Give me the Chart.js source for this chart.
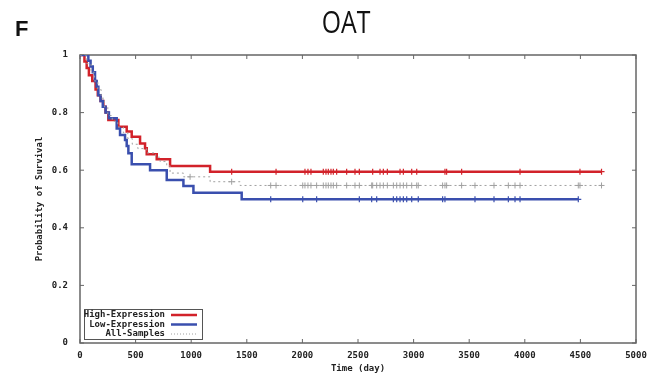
<!DOCTYPE html>
<html>
<head>
<meta charset="utf-8">
<script src="https://cdn.jsdelivr.net/npm/chart.js@4"></script>
<style>
  body { margin: 0; background: #fff; }
</style>
</head>
<body>
<canvas id="km_chart" width="658" height="377"></canvas>
<script>
// survival curves, step times (day) and survival after each step
const highT = [0, 40, 60, 80, 110, 140, 160, 185, 210, 230, 255, 345, 420, 465, 540, 585, 600, 690, 810, 1170, 4690];
const highS = [1, 0.977, 0.955, 0.93, 0.91, 0.88, 0.86, 0.84, 0.82, 0.80, 0.774, 0.751, 0.734, 0.716, 0.693, 0.676, 0.655, 0.638, 0.615, 0.595, 0.595];

const lowT = [0, 75, 95, 115, 135, 150, 165, 185, 205, 230, 260, 330, 360, 405, 420, 435, 465, 630, 780, 930, 1020, 1454, 4481];
const lowS = [1, 0.98, 0.96, 0.94, 0.91, 0.89, 0.86, 0.84, 0.82, 0.80, 0.78, 0.745, 0.722, 0.705, 0.684, 0.659, 0.621, 0.60, 0.566, 0.545, 0.522, 0.499, 0.499];

const allT = [0, 60, 100, 130, 160, 190, 220, 250, 290, 340, 390, 430, 470, 520, 600, 680, 720, 780, 810, 930, 1170, 1440, 4690];
const allS = [1, 0.97, 0.94, 0.91, 0.88, 0.85, 0.82, 0.79, 0.77, 0.75, 0.73, 0.71, 0.69, 0.675, 0.66, 0.645, 0.63, 0.615, 0.59, 0.577, 0.56, 0.547, 0.547];

// censored times
const highCens = [1364, 1763, 2023, 2050, 2077, 2188, 2212, 2233, 2257, 2278, 2308, 2398, 2473, 2512, 2632, 2698, 2728, 2764, 2878, 2908, 2983, 3028, 3282, 3297, 3432, 3957, 4496, 4690];
const lowCens = [1715, 2003, 2128, 2512, 2623, 2668, 2818, 2848, 2878, 2908, 2938, 2983, 3042, 3261, 3282, 3552, 3723, 3852, 3912, 3957, 4481];
const allCens = [990, 1364, 1715, 1763, 2003, 2023, 2050, 2077, 2128, 2188, 2212, 2233, 2257, 2278, 2308, 2398, 2473, 2512, 2623, 2632, 2668, 2698, 2728, 2764, 2818, 2848, 2878, 2908, 2938, 2983, 3028, 3042, 3261, 3282, 3297, 3432, 3552, 3723, 3852, 3912, 3957, 4481, 4496, 4690];

const xTicks = [0, 500, 1000, 1500, 2000, 2500, 3000, 3500, 4000, 4500, 5000];
const yTicks = [0, 0.2, 0.4, 0.6, 0.8, 1];
const seriesNames = ["High-Expression", "Low-Expression", "All-Samples"];

const RED = "#d2222a", BLUE = "#3a4fae", GRAY = "#a0a0a0";
const MONO = "'DejaVu Sans Mono', monospace";

function curve(t, s) { return t.map((v, i) => ({ x: v, y: s[i] })); }
function valueAt(t, s, day) {
    let v = s[0];
    for (let i = 0; i < t.length; i++) if (t[i] <= day) v = s[i];
    return v;
}
function marks(cens, t, s) { return cens.map(d => ({ x: d, y: valueAt(t, s, d) })); }

const frame = {
    id: "frame",
    beforeDatasetsDraw(chart) {
        const { ctx, chartArea: a, scales: { x, y } } = chart;
        ctx.save();
        ctx.strokeStyle = "#666";
        ctx.lineWidth = 1.5;
        ctx.strokeRect(a.left, a.top, a.right - a.left, a.bottom - a.top);
        ctx.lineWidth = 1;
        ctx.beginPath();
        xTicks.forEach(v => {
            const px = x.getPixelForValue(v);
            ctx.moveTo(px, a.bottom); ctx.lineTo(px, a.bottom - 4);
            ctx.moveTo(px, a.top); ctx.lineTo(px, a.top + 4);
        });
        yTicks.forEach(v => {
            const py = y.getPixelForValue(v);
            ctx.moveTo(a.left, py); ctx.lineTo(a.left + 4, py);
            ctx.moveTo(a.right, py); ctx.lineTo(a.right - 4, py);
        });
        ctx.stroke();
        ctx.restore();
    },
    afterDraw(chart) {
        const ctx = chart.ctx;
        ctx.save();
        // panel letter + title
        ctx.fillStyle = "#111";
        ctx.font = "bold 22px 'Liberation Sans', Arial, sans-serif";
        ctx.textBaseline = "alphabetic";
        ctx.textAlign = "left";
        ctx.fillText("F", 15, 36);
        ctx.translate(346, 33);
        ctx.scale(0.8, 1);
        ctx.font = "500 31px 'Open Sans', sans-serif";
        ctx.textAlign = "center";
        ctx.fillText("OAT", 0, 0);
        ctx.restore();

        // legend box
        ctx.save();
        ctx.strokeStyle = "#555";
        ctx.lineWidth = 1;
        ctx.strokeRect(84.5, 309.5, 118, 30);
        ctx.font = "bold 9px " + MONO;
        ctx.textAlign = "right";
        ctx.textBaseline = "middle";
        ctx.fillStyle = "#222";
        const rows = [315, 324.5, 334];
        const cols = [RED, BLUE, GRAY];
        seriesNames.forEach((n, i) => {
            ctx.fillText(n, 165, rows[i]);
            ctx.beginPath();
            ctx.strokeStyle = cols[i];
            ctx.lineWidth = i < 2 ? 2.5 : 1;
            ctx.setLineDash(i < 2 ? [] : [1, 2]);
            ctx.moveTo(171, rows[i]); ctx.lineTo(197, rows[i]);
            ctx.stroke();
        });
        ctx.restore();
    }
};

const lineDs = (label, t, s, color, width, dash) => ({
    label, data: curve(t, s), borderColor: color, borderWidth: width, borderDash: dash,
    stepped: "before", pointRadius: 0, fill: false
});
const markDs = (cens, t, s, color, width) => ({
    data: marks(cens, t, s), showLine: false, pointStyle: "cross", pointRadius: 3,
    borderColor: color, borderWidth: width, backgroundColor: color
});

new Chart(document.getElementById("km_chart").getContext("2d"), {
    type: "line",
    data: {
        datasets: [
            lineDs(seriesNames[2], allT, allS, GRAY, 1, [2, 3]),
            markDs(allCens, allT, allS, GRAY, 1),
            lineDs(seriesNames[1], lowT, lowS, BLUE, 2.5, []),
            markDs(lowCens, lowT, lowS, BLUE, 1.2),
            lineDs(seriesNames[0], highT, highS, RED, 2.5, []),
            markDs(highCens, highT, highS, RED, 1.2)
        ]
    },
    options: {
        responsive: false,
        animation: false,
        layout: { padding: { top: 55, right: 22, left: 0, bottom: 0 } },
        plugins: { legend: { display: false }, tooltip: { enabled: false } },
        scales: {
            x: {
                type: "linear", min: 0, max: 5000,
                afterBuildTicks: s => { s.ticks = xTicks.map(v => ({ value: v })); },
                afterFit: s => { s.height = 34; },
                grid: { display: false, drawTicks: false },
                border: { display: false },
                ticks: { padding: 7, color: "#222", font: { family: MONO, size: 9, weight: "bold" }, maxRotation: 0,
                         callback: v => String(v) },
                title: { display: true, text: "Time (day)", color: "#222", padding: { top: 0, bottom: 3 }, font: { family: MONO, size: 9, weight: "bold" } }
            },
            y: {
                type: "linear", min: 0, max: 1,
                afterBuildTicks: s => { s.ticks = yTicks.map(v => ({ value: v })); },
                afterFit: s => { s.width = 80; },
                grid: { display: false, drawTicks: false },
                border: { display: false },
                ticks: { padding: 12, color: "#222", font: { family: MONO, size: 9, weight: "bold" },
                         callback: v => (v === 0 || v === 1) ? String(v) : v.toFixed(1) },
                title: { display: true, text: "Probability of Survival", color: "#222", padding: { top: 34, bottom: 0 }, font: { family: MONO, size: 9, weight: "bold" } }
            }
        }
    },
    plugins: [frame]
});
</script>
</body>
</html>
